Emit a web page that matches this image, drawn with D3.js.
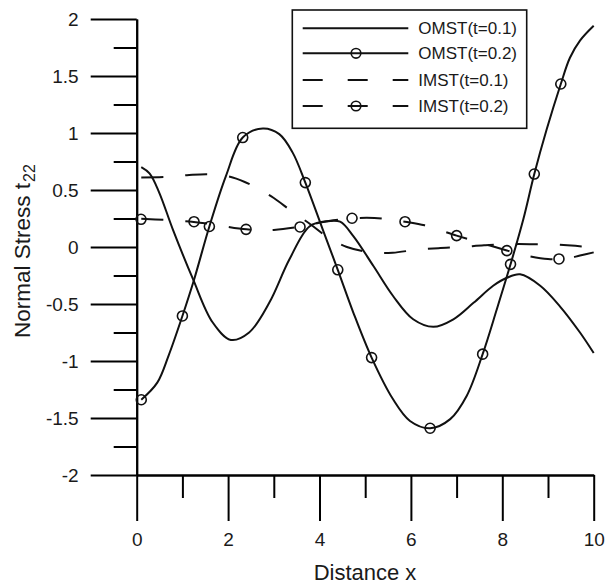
<!DOCTYPE html>
<html>
<head>
<meta charset="utf-8">
<script src="https://cdn.jsdelivr.net/npm/d3@7"></script>
<style>
  html, body { margin: 0; padding: 0; background: #fff; }
  svg { display: block; font-family: "Liberation Sans", Arial, Helvetica, sans-serif; }
</style>
</head>
<body>
<svg id="chart" width="609" height="586"></svg>
<script>
// ---- data ----
const seriesNames = ["OMST(t=0.1)", "OMST(t=0.2)", "IMST(t=0.1)", "IMST(t=0.2)"];

const omst01 = [[0.1,0.70],[0.28,0.645],[0.49,0.48],[0.79,0.155],[1.23,-0.28],[1.66,-0.66],[2.06,-0.815],[2.46,-0.75],[2.90,-0.49],[3.34,-0.11],[3.78,0.18],[4.15,0.225],[4.45,0.222],[4.74,0.096],[5.18,-0.167],[5.61,-0.43],[6.05,-0.634],[6.49,-0.70],[6.93,-0.634],[7.37,-0.49],[7.80,-0.34],[8.1,-0.27],[8.39,-0.24],[8.83,-0.34],[9.26,-0.52],[9.70,-0.75],[10,-0.93]];

const omst02 = [[0.1,-1.34],[0.45,-1.19],[0.7,-0.95],[1.0,-0.605],[1.26,-0.28],[1.59,0.18],[1.95,0.62],[2.32,0.96],[2.76,1.04],[3.12,0.99],[3.41,0.83],[3.69,0.565],[4.07,0.155],[4.40,-0.2],[4.74,-0.575],[5.14,-0.97],[5.61,-1.336],[5.98,-1.526],[6.42,-1.59],[6.86,-1.51],[7.22,-1.307],[7.57,-0.94],[7.88,-0.546],[8.18,-0.152],[8.46,0.243],[8.70,0.64],[8.97,1.03],[9.28,1.43],[9.48,1.66],[9.70,1.81],[10,1.94]];
const omst02Markers = [[0.1,-1.34],[1.0,-0.605],[1.59,0.18],[2.32,0.96],[3.69,0.565],[4.40,-0.2],[5.14,-0.97],[6.42,-1.59],[7.57,-0.94],[8.18,-0.152],[8.70,0.64],[9.28,1.43]];

const imst01 = [[0.1,0.61],[0.6,0.614],[1.1,0.63],[1.6,0.638],[2.1,0.61],[2.55,0.535],[3.0,0.43],[3.4,0.31],[3.8,0.2],[4.2,0.08],[4.6,0.0],[5.1,-0.045],[5.6,-0.05],[6.1,-0.025],[6.6,-0.01],[7.1,0.0],[7.6,0.015],[8.1,0.024],[8.6,0.025],[9.1,0.022],[9.6,0.01],[10,-0.005]];

const imst02 = [[0.1,0.248],[0.6,0.238],[1.25,0.22],[1.8,0.19],[2.4,0.155],[3.0,0.15],[3.57,0.178],[4.2,0.228],[4.71,0.252],[5.2,0.255],[5.6,0.24],[5.87,0.222],[6.3,0.19],[7.0,0.1],[7.5,0.04],[8.1,-0.03],[8.4,-0.065],[9.0,-0.105],[9.24,-0.105],[9.44,-0.1],[9.7,-0.075],[10,-0.047]];
const imst02Markers = [[0.094,0.243],[1.254,0.222],[2.393,0.155],[3.574,0.176],[4.712,0.252],[5.871,0.222],[7.0,0.1],[8.1,-0.032],[9.24,-0.105]];

const xMajorTicks = [0, 2, 4, 6, 8, 10];
const xMajorLabels = ["0", "2", "4", "6", "8", "10"];
const xMinorTicks = [1, 3, 5, 7, 9];
const yMajorTicks = [2, 1.5, 1, 0.5, 0, -0.5, -1, -1.5, -2];
const yMajorLabels = ["2", "1.5", "1", "0.5", "0", "-0.5", "-1", "-1.5", "-2"];
const yMinorTicks = [1.75, 1.25, 0.75, 0.25, -0.25, -0.75, -1.25, -1.75];

// ---- layout ----
const svg = d3.select("#chart");
const x = d3.scaleLinear().domain([0, 10]).range([136.7, 593.7]);
const y = d3.scaleLinear().domain([-2, 2]).range([475, 19]);

const axisStroke = 2;

const gyMinor = svg.append("g").attr("transform", `translate(${x(0)},0)`)
  .call(d3.axisLeft(y).tickValues(yMinorTicks).tickSize(23).tickSizeOuter(0).tickFormat(""));
const gy = svg.append("g").attr("transform", `translate(${x(0)},0)`)
  .call(d3.axisLeft(y).tickValues(yMajorTicks).tickSize(46).tickSizeOuter(0).tickPadding(12)
    .tickFormat((d, i) => yMajorLabels[i]));
const gxMinor = svg.append("g").attr("transform", `translate(0,${y(-2)})`)
  .call(d3.axisBottom(x).tickValues(xMinorTicks).tickSize(23).tickSizeOuter(0).tickFormat(""));
const gx = svg.append("g").attr("transform", `translate(0,${y(-2)})`)
  .call(d3.axisBottom(x).tickValues(xMajorTicks).tickSize(46).tickSizeOuter(0).tickPadding(12)
    .tickFormat((d, i) => xMajorLabels[i]));

[gyMinor, gy, gxMinor, gx].forEach(g => {
  g.selectAll("path.domain").attr("stroke", "#000").attr("stroke-width", axisStroke);
  g.selectAll(".tick line").attr("stroke", "#000").attr("stroke-width", axisStroke);
  g.selectAll(".tick text").attr("fill", "#1a1a1a").style("font-size", "19px")
    .style("font-family", '"Liberation Sans", Arial, Helvetica, sans-serif');
});

svg.append("text")
  .attr("x", 365).attr("y", 580)
  .attr("text-anchor", "middle")
  .style("font-size", "22px").attr("fill", "#1a1a1a")
  .text("Distance x");

const yTitle = svg.append("text")
  .attr("transform", "translate(29.5,251) rotate(-90)")
  .attr("text-anchor", "middle")
  .style("font-size", "22.5px").attr("fill", "#1a1a1a");
yTitle.append("tspan").text("Normal Stress t");
yTitle.append("tspan").attr("dy", 5).attr("dx", 1).style("font-size", "16px").text("22");

// ---- curves ----
const line = d3.line().x(d => x(d[0])).y(d => y(d[1])).curve(d3.curveCatmullRom.alpha(0.5));
const plot = svg.append("g");

const curveDefs = [
  { data: omst01, dash: null },
  { data: omst02, dash: null },
  { data: imst01, dash: "22,22" },
  { data: imst02, dash: "22,22" }
];
curveDefs.forEach(c => {
  plot.append("path")
    .datum(c.data)
    .attr("d", line)
    .attr("fill", "none")
    .attr("stroke", "#111")
    .attr("stroke-width", 2)
    .attr("stroke-dasharray", c.dash);
});

[omst02Markers, imst02Markers].forEach(m => {
  plot.selectAll(null).data(m).enter().append("circle")
    .attr("cx", d => x(d[0])).attr("cy", d => y(d[1]))
    .attr("r", 5)
    .attr("fill", "none")
    .attr("stroke", "#111")
    .attr("stroke-width", 1.6);
});

// ---- legend ----
const lg = svg.append("g");
lg.append("rect")
  .attr("x", 292.3).attr("y", 10).attr("width", 234.4).attr("height", 118.3)
  .attr("fill", "#fff").attr("stroke", "#111").attr("stroke-width", 1.6);

const legendRowY = [28.3, 53.3, 80, 106];
const legendDash = [null, null, "20,25", "20,25"];
const legendMarker = [false, true, false, true];
seriesNames.forEach((name, i) => {
  const ly = legendRowY[i];
  lg.append("line")
    .attr("x1", 302.7).attr("x2", 408.3).attr("y1", ly).attr("y2", ly)
    .attr("stroke", "#111").attr("stroke-width", 2)
    .attr("stroke-dasharray", legendDash[i]);
  if (legendMarker[i]) {
    lg.append("circle").attr("cx", 356).attr("cy", ly).attr("r", 4.8)
      .attr("fill", "none").attr("stroke", "#111").attr("stroke-width", 1.6);
  }
  lg.append("text")
    .attr("x", 418.3).attr("y", ly).attr("dy", "0.36em")
    .style("font-size", "17px").attr("fill", "#1a1a1a")
    .text(name);
});
</script>
</body>
</html>
